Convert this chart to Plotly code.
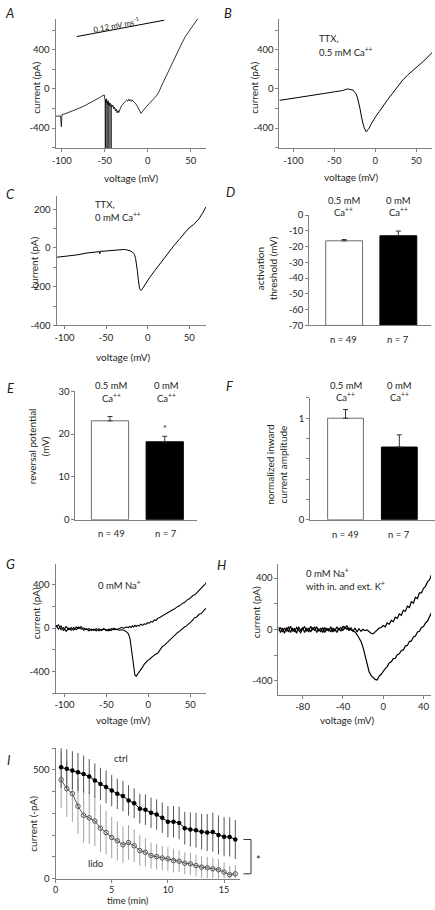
import plotly.graph_objects as go

W, H = 435, 910
FONT = "Lato"
TXT = "#231f20"
AXC = "#808080"
TF = 9.5   # tick font size
LF = 10    # label font size

# ---------------- Panel A : ramp I-V, control ----------------
A_v = [-107, -104, -101.5, -100.5, -99.8, -95, -90, -85, -79, -73, -67, -63, -60, -56, -54, -52,
       -50.5, -50, -49.4, -49.3, -49.3, -48.5, -48, -47.4, -47.3, -47.3, -46.5, -46, -45.2, -45.1,
       -45.1, -44.3, -43.8, -42.7, -42.6, -42.6, -41.5, -40.5, -39.5, -38.5, -37.5, -36.5, -35.5,
       -34.6, -33.5, -32.5, -31.5, -30.5, -29, -27.5, -26, -24.5, -23, -22, -21, -20, -19, -18,
       -17, -15.5, -14, -12.5, -11, -10, -8.8, -7.7, -6.5, -5, -3, -1, 2, 5, 7.7, 10, 11.5, 13.5,
       17, 21, 25, 29, 33, 36.5, 40, 44, 48, 52, 56, 60]
A_i = [-278, -280, -276, -385, -262, -250, -235, -215, -194, -170, -144, -125, -110, -88, -77, -67,
       -62, -95, -125, -650, -110, -140, -100, -130, -650, -125, -160, -120, -150, -650,
       -140, -175, -145, -170, -650, -160, -185, -165, -205, -185, -225, -205, -245,
       -220, -240, -205, -190, -170, -160, -140, -130, -115, -125, -105, -120, -110, -128, -112,
       -125, -135, -150, -170, -195, -215, -240, -250, -235, -215, -195, -175, -148, -122, -96, -72, -52, -22,
       48, 124, 200, 275, 345, 409, 470, 536, 590, 643, 690, 737]
SCALE_V = [-82.7, 19.2]
SCALE_I = [533, 700]

# ---------------- Panel B : TTX, 0.5 mM Ca ----------------
B_v = [-117, -105, -95, -85, -75, -65, -60.4, -50, -40, -34, -30, -27, -25.7, -23.5, -21.6, -20,
       -18.8, -17.5, -16.3, -15, -13.5, -12.5, -11.4, -10.5, -9.4, -7.5, -5.3, -2.5, 0.8, 5, 9,
       15, 21.2, 27, 33.5, 40, 45.7, 52, 58, 64, 70]
B_i = [-117, -103, -90, -78, -65, -52, -44, -30, -17, 0, -3, -12, -27, -50, -94, -140,
       -194, -255, -312, -355, -395, -420, -435, -432, -422, -400, -362, -320, -278, -230, -177,
       -110, -44, 22, 90, 145, 191, 232, 275, 322, 375]

# ---------------- Panel C : TTX, 0 mM Ca ----------------
C_v = [-109, -100, -93, -85, -73, -65, -58, -57.5, -57, -53.6, -45, -38, -33.7, -29, -25.8, -22,
       -19.8, -17.5, -15.9, -14.5, -13.1, -12.3, -11.5, -10.7, -9.9, -8.9, -7.9, -6, -2, 2, 8,
       13.9, 20, 25.8, 31.7, 37.7, 43.6, 49.6, 55.5, 61.5, 66, 70]
C_i = [-48, -44, -40, -36, -26, -22, -19, -30, -17, -17, -13, -10, -9, -8, -9, -12,
       -17, -25, -34, -55, -86, -120, -155, -185, -206, -215, -220, -209, -180, -155, -120,
       -86, -50, -17, 13, 43, 73, 103, 122, 150, 180, 212]

# ---------------- Panels D, E, F : bar summaries ----------------
GROUPS = ["0.5 mM", "0 mM"]
N_LABELS = ["n = 49", "n = 7"]
D_vals = [-16.3, -13.1]
D_err = [0.8, 3.0]
D_base = -70
E_vals = [23.1, 18.2]
E_err = [1.0, 1.3]
F_vals = [1.0, 0.716]
F_err = [0.085, 0.12]

# ---------------- Panel G : 0 mM Na ----------------
G_v = [-110, -107, -104, -101, -98, -95, -92, -89, -86, -83, -80, -77, -74, -71, -68, -65, -62,
       -59, -56, -53, -50, -47, -44, -41, -38, -35, -32, -29, -26, -24, -22, -20.5, -19, -17.5,
       -16, -14.5, -13, -11, -9, -7, -5, -3, -1, 1, 3, 5, 7, 9, 11, 13, 15, 17, 19, 21, 23, 25,
       27, 29, 31, 33, 35, 37, 39, 41, 43, 45, 47, 49, 51, 53, 55, 57, 59, 61, 63, 65, 67, 69]
G_up = [25, -10, 20, -25, 15, -15, 5, -20, 10, -5, 15, -20, -5, -25, -10, -20, -5, -25, -15, -5,
        -25, -10, -20, 0, -15, -5, 5, 0, 10, 5, 15, 5, 20, 10, 25, 15, 25,
        20, 35, 25, 40, 35, 50, 45, 60, 55, 75, 70, 90, 95, 105, 110, 125, 130, 145, 150, 160,
        170, 175, 190, 200, 205, 220, 230, 235, 250, 265, 270, 285, 300, 305, 320, 335, 350, 365,
        385, 400, 420]
G_low = [10, 30, -15, 5, -30, 0, -20, 5, -15, 10, -10, 0, -15, -5, -20, -10, -25, -5, -20, -10,
         -15, -25, -5, -15, -10, -20, -15, -20, -35, -50, -90, -180, -290, -380, -435, -445, -430,
         -410, -385, -360, -335, -315, -300, -290, -275, -258, -250, -240, -232, -210, -190, -168,
         -160, -145, -125, -116, -95, -80, -70, -48, -40, -30, -15, 0, 10, 18, 35, 50, 60, 75, 96,
         100, 115, 130, 134, 155, 170, 185]

# ---------------- Panel H : 0 mM Na, K inside and outside ----------------
H_v = [-104, -102, -100, -98, -96, -94, -92, -90, -88, -86, -84, -82, -80, -78, -76, -74, -72,
       -70, -68, -66, -64, -62, -60, -58, -56, -54, -52, -50, -48, -46, -44, -42, -40, -38, -36,
       -34, -32, -30, -28, -26, -24, -22, -20, -18, -16, -14, -12, -10, -8, -6, -4, -2, 0, 2, 4,
       6, 8, 10, 12, 14, 16, 18, 20, 22, 24, 26, 28, 30, 32, 34, 36, 38, 40, 42, 44, 46, 48, 50]
H_up = [20, -25, 10, -30, 15, -20, 25, -15, 5, -30, 20, -10, 15, -25, 10, -20, 25, -5, 20, -25,
        5, -20, 15, -25, 10, -15, 20, -20, 5, -25, 10, -15, 25, 5, 30, -10, 15, -15, 10, -20,
        5, -15, 0, -10, -5, -20, -30, -35, -20, -5, 10, 15,
        30, 20, 50, 40, 70, 60, 95, 85, 120, 110, 150, 140, 180, 170, 215, 205, 250, 240, 285,
        285, 320, 335, 370, 385, 430, 470]
H_low = [-10, 15, -20, 10, -15, 20, -25, 10, -20, 15, -5, -25, 5, 20, -15, 10, -20, 15, -10, 20,
         -15, 10, -25, 15, -10, 5, -20, 10, -15, 20, -5, 15, -10, 20, 0, 10, -5, -10, -20, -40,
         -65, -95, -140, -200, -270, -330, -360, -375, -390, -395, -365, -350,
         -325, -305, -290, -262, -252, -228, -225, -198, -190, -165, -160, -130, -125, -95, -90,
         -60, -52, -20, -15, 15, 22, 50, 65, 100, 125, 165]

# ---------------- Panel I : time course, ctrl vs lido ----------------
I_t = [0.5, 1.0, 1.5, 2.0, 2.5, 3.0, 3.5, 4.0, 4.5, 5.0, 5.5, 6.0, 6.5, 7.0, 7.5, 8.0,
       8.5, 9.0, 9.5, 10.0, 10.5, 11.0, 11.5, 12.0, 12.5, 13.0, 13.5, 14.0, 14.5, 15.0, 15.5, 16.0]
I_ctrl = [512, 505, 498, 490, 481, 470, 452, 435, 422, 405, 390, 380, 360, 347, 322, 317,
          303, 295, 280, 262, 262, 256, 232, 226, 223, 216, 212, 214, 201, 193, 192, 180]
I_ctrl_err = [95, 90, 88, 88, 85, 80, 78, 75, 75, 72, 70, 70, 70, 68, 68, 70,
              70, 70, 70, 72, 72, 75, 75, 78, 80, 82, 85, 90, 90, 90, 90, 90]
I_lido = [455, 414, 391, 333, 291, 280, 265, 232, 212, 189, 174, 156, 166, 151, 129, 121,
          106, 101, 95, 91, 83, 80, 71, 68, 60, 53, 50, 45, 41, 30, 18, 22]
I_lido_err = [130, 130, 130, 128, 125, 120, 115, 110, 100, 95, 90, 85, 80, 75, 70, 65,
              60, 60, 55, 55, 55, 50, 50, 50, 50, 50, 50, 50, 50, 45, 40, 40]

# ---------------- helpers ----------------
def xax(l, r, rng, anchor, tickvals=None, ticktext=None, tf=TF):
    d = dict(domain=[l / W, r / W], range=rng, anchor=anchor, showline=True, linecolor=AXC,
             linewidth=1, showgrid=False, zeroline=False, fixedrange=True,
             tickfont=dict(family=FONT, size=tf, color=TXT))
    if tickvals is None:
        d.update(ticks="", showticklabels=False)
    else:
        d.update(ticks="outside", ticklen=3, tickwidth=1, tickcolor=AXC, tickmode="array",
                 tickvals=tickvals,
                 ticktext=ticktext if ticktext is not None else [str(v) for v in tickvals])
    return d


def yax(t, b, rng, anchor, tickvals, ticktext=None):
    return dict(domain=[1 - b / H, 1 - t / H], range=rng, anchor=anchor, showline=True,
                linecolor=AXC, linewidth=1, showgrid=False, zeroline=False, fixedrange=True,
                ticks="outside", ticklen=3, tickwidth=1, tickcolor=AXC, tickmode="array",
                tickvals=tickvals,
                ticktext=ticktext if ticktext is not None else [str(v) for v in tickvals],
                tickfont=dict(family=FONT, size=TF, color=TXT))


def ann(text, x, y, size=LF, xanchor="center", angle=0):
    return dict(text=text, x=x / W, y=1 - y / H, xref="paper", yref="paper", showarrow=False,
                xanchor=xanchor, yanchor="middle", textangle=angle,
                font=dict(family=FONT, size=size, color=TXT))


def line_trace(x, y, ax, width=1.0, color="black"):
    return go.Scatter(x=x, y=y, mode="lines", line=dict(color=color, width=width),
                      xaxis="x" + ax, yaxis="y" + ax, hoverinfo="skip", showlegend=False)


fig = go.Figure()

# Panel A
fig.add_trace(line_trace(A_v, A_i, "", width=0.8))
fig.add_trace(line_trace(SCALE_V, SCALE_I, "", width=1))
# Panel B
fig.add_trace(line_trace(B_v, B_i, "2"))
# Panel C
fig.add_trace(line_trace(C_v, C_i, "3"))

# Bars D, E, F
pos = list(range(len(GROUPS)))
bar_fill = ["white", "black"]
bar_line = ["#6d6d6d", "black"]
for ax, vals, errs, base, bw in [("4", D_vals, D_err, D_base, 0.68),
                                  ("5", E_vals, E_err, 0, 0.68),
                                  ("6", F_vals, F_err, 0, 0.665)]:
    fig.add_trace(go.Bar(x=pos, y=[v - base for v in vals], base=base, width=bw,
                         marker=dict(color=bar_fill, line=dict(color=bar_line, width=1)),
                         xaxis="x" + ax, yaxis="y" + ax, showlegend=False, hoverinfo="skip"))
    fig.add_trace(go.Scatter(x=pos, y=vals, mode="markers",
                             marker=dict(size=1, color="rgba(0,0,0,0)"),
                             error_y=dict(type="data", symmetric=False, array=errs,
                                          arrayminus=[0] * len(errs), color="#333333",
                                          thickness=1, width=2.5),
                             xaxis="x" + ax, yaxis="y" + ax, showlegend=False, hoverinfo="skip"))

# Panel G
fig.add_trace(line_trace(G_v, G_up, "7", width=1.1))
fig.add_trace(line_trace(G_v, G_low, "7", width=1.1))
# Panel H
fig.add_trace(line_trace(H_v, H_up, "8", width=1.2))
fig.add_trace(line_trace(H_v, H_low, "8", width=1.2))

# Panel I
fig.add_trace(go.Scatter(x=I_t, y=I_lido, mode="lines+markers",
                         line=dict(color="#555555", width=1),
                         marker=dict(symbol="circle-open", size=4.5, color="#555555",
                                     line=dict(width=1)),
                         error_y=dict(type="data", array=I_lido_err, color="#a0a0a0",
                                      thickness=1, width=0),
                         xaxis="x9", yaxis="y9", showlegend=False, hoverinfo="skip"))
fig.add_trace(go.Scatter(x=I_t, y=I_ctrl, mode="lines+markers",
                         line=dict(color="black", width=1),
                         marker=dict(symbol="circle", size=4.5, color="black"),
                         error_y=dict(type="data", array=I_ctrl_err, color="#555555",
                                      thickness=1, width=0),
                         xaxis="x9", yaxis="y9", showlegend=False, hoverinfo="skip"))

VTICKS = [-100, -50, 0, 50]
layout = dict(
    width=W, height=H, margin=dict(l=0, r=0, t=0, b=0),
    paper_bgcolor="white", plot_bgcolor="white", showlegend=False,
    font=dict(family=FONT, color=TXT, size=LF),
    xaxis=xax(52, 204, [-107.3, 68], "y", VTICKS),
    yaxis=yax(13, 144, [-605, 714], "x", [-600, -400, -200, 0, 200, 400, 600],
              ["", "-400", "", "0", "", "400", ""]),
    xaxis2=xax(278, 432, [-117, 69.3], "y2", VTICKS),
    yaxis2=yax(13, 144, [-605, 714], "x2", [-600, -400, -200, 0, 200, 400, 600],
               ["", "-400", "", "0", "", "400", ""]),
    xaxis3=xax(53, 204, [-109.5, 70.2], "y3", VTICKS),
    yaxis3=yax(192, 323.3, [-400, 270], "x3", [-400, -300, -200, -100, 0, 100, 200],
               ["-400", "", "-200", "", "0", "", "200"]),
    xaxis4=xax(308, 431, [-0.645, 1.603], "y4"),
    yaxis4=yax(211.7, 323.3, [-70, 0], "x4", [-70, -60, -50, -40, -30, -20, -10, 0]),
    xaxis5=xax(72, 195, [-0.634, 1.594], "y5"),
    yaxis5=yax(390, 520, [0, 30], "x5", [0, 10, 20, 30]),
    xaxis6=xax(309, 435, [-0.657, 1.663], "y6"),
    yaxis6=yax(396.7, 520, [0, 1.2], "x6", [0, 0.2, 0.4, 0.6, 0.8, 1.0, 1.2],
               ["0", "", "", "", "", "1", ""]),
    xaxis7=xax(52, 204, [-110.6, 68.8], "y7", VTICKS),
    yaxis7=yax(565, 695.5, [-600, 590], "x7", [-600, -400, -200, 0, 200, 400],
               ["", "-400", "", "0", "", "400"]),
    xaxis8=xax(277, 431, [-104, 47.5], "y8", [-80, -40, 0, 40]),
    yaxis8=yax(565, 697, [-508, 508], "x8", [-400, -200, 0, 200, 400],
               ["-400", "", "0", "", "400"]),
    xaxis9=xax(52, 238, [0, 16.4], "y9", [0, 5, 10, 15], tf=9),
    yaxis9=yax(751.3, 883.3, [0, 600], "x9", [0, 100, 200, 300, 400, 500, 600],
               ["0", "", "", "", "", "500", ""]),
)

annotations = []
# panel letters
for letter, x, y in [("A", 6, 7), ("B", 226, 7), ("C", 7, 190), ("D", 229, 188), ("E", 7, 387),
                     ("F", 228, 385), ("G", 7, 565), ("H", 220, 566), ("I", 5, 763)]:
    annotations.append(ann("<i>" + letter + "</i>", x, y, size=13))

# axis titles
for text, x, y, ang, sz in [("current (pA)", 32, 83, -90, LF), ("voltage (mV)", 129, 174, 0, LF),
                            ("current (pA)", 252, 83, -90, LF), ("voltage (mV)", 351, 173, 0, LF),
                            ("current (pA)", 30, 260, -90, LF), ("voltage (mV)", 121, 355, 0, LF),
                            ("activation<br>threshold (mV)", 265, 266, -90, LF),
                            ("reversal potential<br>(mV)", 35, 446, -90, LF),
                            ("normalized inward<br>current amplitude", 275, 464, -90, LF),
                            ("current (pA)", 32, 615, -90, LF), ("voltage (mV)", 121, 723, 0, LF),
                            ("current (pA)", 254, 614, -90, LF), ("voltage (mV)", 347, 723, 0, LF),
                            ("current (-pA)", 29, 828, -90, LF), ("time (min)", 125, 905, 0, 9.5)]:
    annotations.append(ann(text, x, y, size=sz, angle=ang))

# in-panel notes
annotations += [
    ann("TTX,", 316, 33, size=9.5, xanchor="left"),
    ann("0.5 mM Ca<sup>++</sup>", 316, 46, size=9.5, xanchor="left"),
    ann("TTX,", 90, 201, size=9.5, xanchor="left"),
    ann("0 mM Ca<sup>++</sup>", 90, 213, size=9.5, xanchor="left"),
    ann("0 mM Na<sup>+</sup>", 93, 586, size=9.5, xanchor="left"),
    ann("0 mM Na<sup>+</sup>", 303, 573, size=9.5, xanchor="left"),
    ann("with in. and ext. K<sup>+</sup>", 303, 587, size=9.5, xanchor="left"),
    ann("ctrl", 118, 762, size=9.5),
    ann("lido", 92, 868, size=9.5),
    ann("*", 257, 864, size=11),
    ann("*", 162, 428, size=9),
]
# scale-bar label in A (data coords)
annotations.append(dict(text="0.12 mV ms<sup>-1</sup>", x=-36.5, y=655, xref="x", yref="y",
                        showarrow=False, textangle=-10.7,
                        font=dict(family=FONT, size=8, color=TXT)))

# group labels and n labels for D, E, F
for centers, ytop, ybot in [([343, 398], 196.5, 337.7), ([108, 164], 384.3, 534),
                            ([345, 399], 384, 535)]:
    for cx, g, n in zip(centers, GROUPS, N_LABELS):
        annotations.append(ann(g, cx, ytop, size=9.5))
        annotations.append(ann("Ca<sup>++</sup>", cx, ytop + 11.5, size=9.5))
        annotations.append(ann(n, cx, ybot, size=9.5))

layout["annotations"] = annotations

# significance bracket in I
bx0, bx1 = 241.7 / W, 249.3 / W
layout["shapes"] = [
    dict(type="line", xref="paper", yref="y9", x0=bx1, x1=bx1, y0=I_lido[-1], y1=I_ctrl[-1],
         line=dict(color="#333333", width=1)),
    dict(type="line", xref="paper", yref="y9", x0=bx0, x1=bx1, y0=I_ctrl[-1], y1=I_ctrl[-1],
         line=dict(color="#333333", width=1)),
    dict(type="line", xref="paper", yref="y9", x0=bx0, x1=bx1, y0=I_lido[-1], y1=I_lido[-1],
         line=dict(color="#333333", width=1)),
]

fig.update_layout(**layout)
fig.write_html("out.html", config={"displayModeBar": False, "staticPlot": True},
               post_script="document.body.style.margin='0';document.body.style.padding='0';")
